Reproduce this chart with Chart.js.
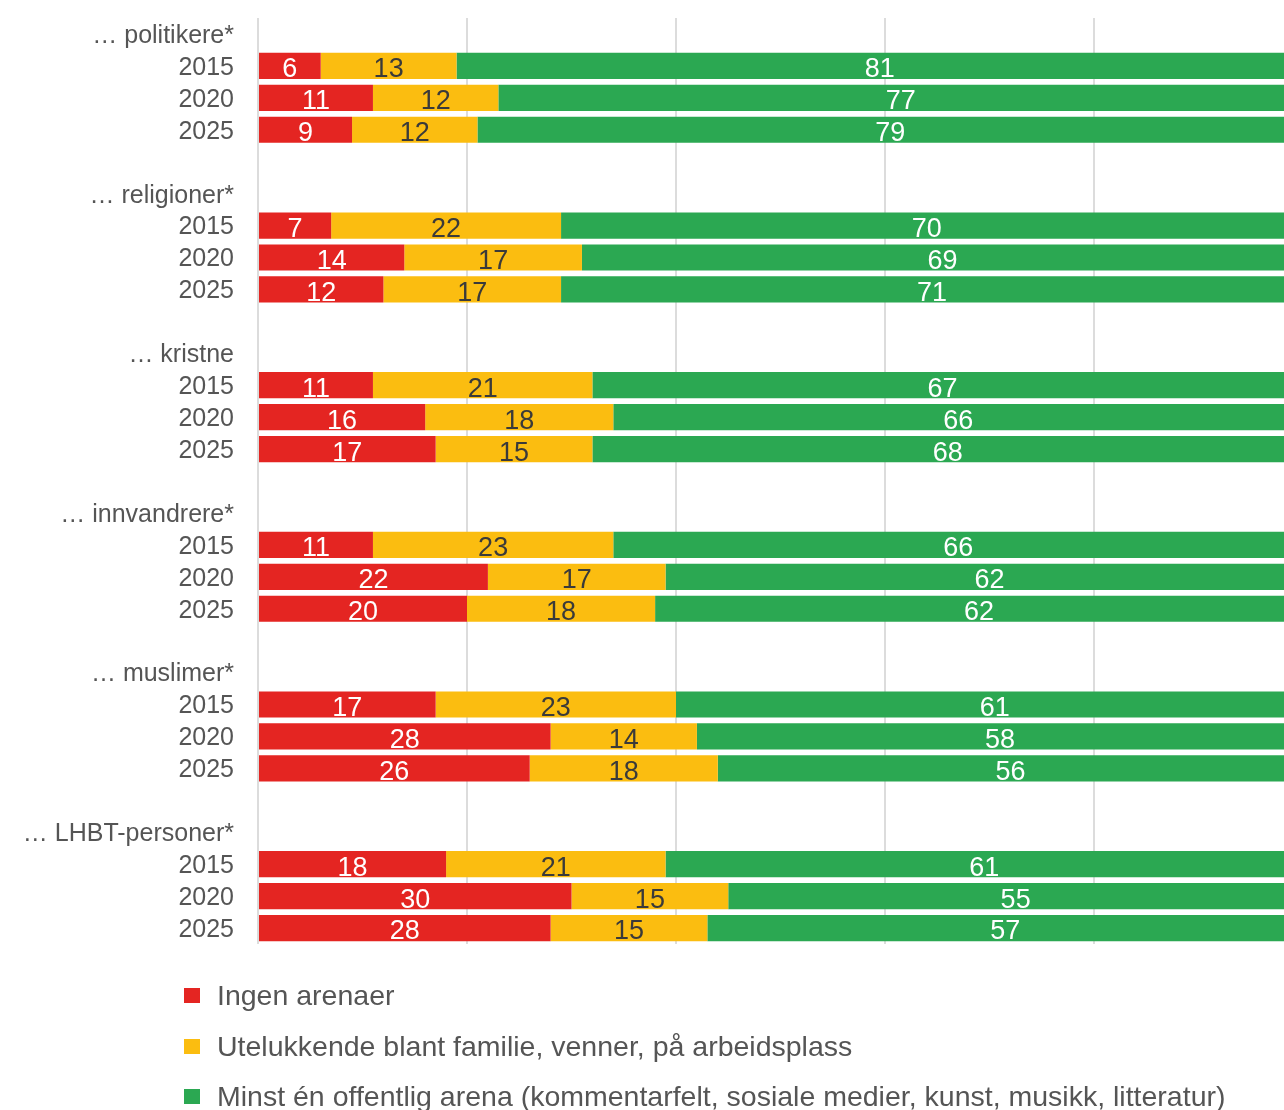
<!DOCTYPE html>
<html>
<head>
<meta charset="utf-8">
<script src="https://cdn.jsdelivr.net/npm/chart.js@4"></script>
<style>
  html, body { margin: 0; padding: 0; background: #fff; overflow: hidden; width: 1284px; height: 1110px; }
  #wrap { position: absolute; left: 0; top: -21px; width: 1303px; height: 1004px; }
  #legend { position: absolute; left: 0; top: 0; width: 1284px; height: 1110px; pointer-events: none;
            font-family: "Liberation Sans", Arial, sans-serif; font-size: 28.5px; color: #555; }
  .item { position: absolute; left: 184px; height: 32px; display: flex; align-items: center; white-space: nowrap; }
  .box { width: 16px; height: 15px; margin-right: 17px; flex: none; }
</style>
</head>
<body>
<div id="wrap"><canvas id="c" width="1303" height="1004"></canvas></div>
<div id="legend"></div>
<script>
const groups = ["… politikere*", "… religioner*", "… kristne", "… innvandrere*", "… muslimer*", "… LHBT-personer*"];
const years = ["2015", "2020", "2025"];
const seriesNames = [
  "Ingen arenaer",
  "Utelukkende blant familie, venner, på arbeidsplass",
  "Minst én offentlig arena (kommentarfelt, sosiale medier, kunst, musikk, litteratur)"
];
const ingen = [6, 11, 9, 7, 14, 12, 11, 16, 17, 11, 22, 20, 17, 28, 26, 18, 30, 28];
const utelukkende = [13, 12, 12, 22, 17, 17, 21, 18, 15, 23, 17, 18, 23, 14, 18, 21, 15, 15];
const minst = [81, 77, 79, 70, 69, 71, 67, 66, 68, 66, 62, 62, 61, 58, 56, 61, 55, 57];
const colors = ["#e42522", "#fbbd10", "#2ba852"];
const labelColors = ["#ffffff", "#3a3a3a", "#ffffff"];

// Build row labels: header, 3 years, blank spacer between groups
const labels = [];
const rowIndex = []; // index into series arrays, or null
groups.forEach((g, gi) => {
  if (gi > 0) { labels.push(""); rowIndex.push(null); }
  labels.push(g); rowIndex.push(null);
  years.forEach((y, yi) => { labels.push(y); rowIndex.push(gi * 3 + yi); });
});
const expand = arr => rowIndex.map(i => i === null ? null : arr[i]);

const FONT = '"Liberation Sans", Arial, sans-serif';
Chart.defaults.font.family = FONT;

const valueLabels = {
  id: 'valueLabels',
  afterDatasetsDraw(chart) {
    const ctx = chart.ctx;
    ctx.save();
    ctx.font = '27px ' + FONT;
    ctx.textAlign = 'center';
    ctx.textBaseline = 'middle';
    chart.data.datasets.forEach((ds, i) => {
      const meta = chart.getDatasetMeta(i);
      meta.data.forEach((el, j) => {
        const v = ds.data[j];
        if (v == null) return;
        const p = el.getProps(['x', 'y', 'base'], true);
        ctx.fillStyle = labelColors[i];
        ctx.fillText(String(v), (p.x + p.base) / 2, p.y + 4);
      });
    });
    ctx.restore();
  }
};

const chart = new Chart(document.getElementById('c'), {
  type: 'bar',
  data: {
    labels: labels,
    datasets: [ingen, utelukkende, minst].map((arr, i) => ({
      label: seriesNames[i],
      data: expand(arr),
      backgroundColor: colors[i],
      borderWidth: 0,
      categoryPercentage: 0.82,
      barPercentage: 1
    }))
  },
  options: {
    indexAxis: 'y',
    responsive: false,
    animation: false,
    devicePixelRatio: 1,
    layout: { padding: { top: 17, bottom: 17, left: 0, right: 0 } },
    plugins: { legend: { display: false }, tooltip: { enabled: false } },
    scales: {
      x: {
        stacked: true, min: 0, max: 100,
        ticks: { display: false, stepSize: 20 },
        grid: { color: '#dcdcdc', lineWidth: 2, drawTicks: false },
        border: { display: false }
      },
      y: {
        stacked: true,
        grid: { display: false, drawTicks: false },
        border: { display: false },
        ticks: { color: '#555', font: { size: 25 }, padding: 24, autoSkip: false, labelOffset: 2 },
        afterFit(s) { s.width = 258; }
      }
    }
  },
  plugins: [valueLabels]
});

// HTML legend built from chart datasets
const legendEl = document.getElementById('legend');
const legendCenters = [995, 1046, 1096];
chart.data.datasets.forEach((ds, i) => {
  const item = document.createElement('div');
  item.className = 'item';
  item.style.top = (legendCenters[i] - 16) + 'px';
  const box = document.createElement('span');
  box.className = 'box';
  box.style.background = ds.backgroundColor;
  const txt = document.createElement('span');
  txt.textContent = ds.label;
  item.appendChild(box); item.appendChild(txt);
  legendEl.appendChild(item);
});
</script>
</body>
</html>
